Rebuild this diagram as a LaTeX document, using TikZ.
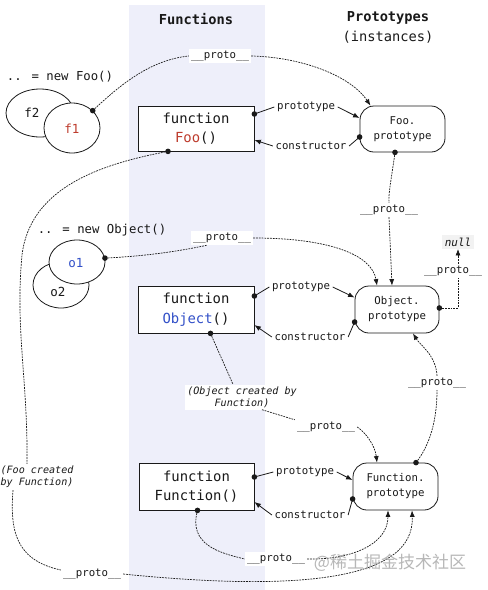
\documentclass[tikz,border=0pt]{standalone}
\usepackage{fontspec}
\setmainfont{DejaVu Sans Mono}
\newfontfamily\cjkfont{Noto Sans CJK SC}
\usetikzlibrary{arrows.meta,calc,shapes.geometric}
\definecolor{band}{RGB}{238,239,250}
\definecolor{fred}{RGB}{190,60,45}
\definecolor{oblue}{RGB}{50,80,200}
\definecolor{ink}{RGB}{25,25,25}
\tikzset{
  dl/.style={draw=ink, line width=0.7pt, dash pattern=on 1.8pt off 1pt},
  sl/.style={draw=ink, line width=0.8pt},
  tip/.style={-{Latex[length=6.5pt,width=5pt]}},
  dotn/.style={circle, fill=ink, inner sep=0pt, minimum size=5.6pt},
  fbox/.style={draw=ink, line width=0.8pt, fill=white, minimum width=116pt, minimum height=45pt,
               align=center, inner sep=0pt, font=\fontsize{13.9}{19.5}\selectfont, text=ink},
  pbox/.style={draw=ink, line width=0.8pt, fill=white, rounded corners=14pt, minimum width=85pt,
               minimum height=46pt, align=center, inner sep=0pt, font=\fontsize{10.7}{15}\selectfont, text=ink},
  ell/.style={draw=ink, line width=0.8pt, fill=white, ellipse, inner sep=0pt},
  etext/.style={font=\fontsize{12.5}{14}\selectfont, text=ink},
  plabel/.style={fill=white, inner sep=2pt, font=\fontsize{10.7}{13}\selectfont, text=ink},
  llabel/.style={inner sep=2.5pt, font=\fontsize{10.7}{13}\selectfont, text=ink},
  ilabel/.style={fill=white, inner sep=2pt, font=\fontsize{10.1}{12}\selectfont\itshape, text=ink},
  title/.style={font=\fontsize{13.7}{16}\selectfont\bfseries, text=ink},
  sub/.style={font=\fontsize{13.7}{16}\selectfont, text=ink},
  code/.style={font=\fontsize{12.3}{14}\selectfont, text=ink},
}
\begin{document}
\begin{tikzpicture}[x=1pt,y=-1pt]
\useasboundingbox (0,0) rectangle (488,590);
\fill[white] (0,0) rectangle (488,590);
\fill[band] (129,5) rectangle (265,590);

% titles
\node[title] (tF) at (196,19) {Functions};
\node[title] (tP) at (388,18) {Prototypes};
\node[sub] (tI) at (388,37) {(instances)};

% instance objects
\node[code] (nf) at (60,77) {.. = new Foo()};
\node[ell, minimum width=68pt, minimum height=48pt] (f2) at (40,113) {};
\node[etext] (f2t) at (32,113) {f2};
\node[ell, minimum width=56pt, minimum height=50pt] (f1) at (72,128) {};
\node[etext, text=fred] (f1t) at (72,129) {f1};

\node[code] (no) at (102,230) {.. = new Object()};
\node[ell, minimum width=56pt, minimum height=46pt] (o2) at (61,285) {};
\node[etext] (o2t) at (58,292) {o2};
\node[ell, minimum width=56pt, minimum height=44pt] (o1) at (77,262) {};
\node[etext, text=oblue] (o1t) at (76,263) {o1};

% function boxes
\node[fbox] (fnFoo) at (196,128.5) {function\\\textcolor{fred}{Foo}()};
\node[fbox, minimum height=47pt] (fnObj) at (196,309.5) {function\\\textcolor{oblue}{Object}()};
\node[fbox, minimum height=47pt, minimum width=115pt] (fnFun) at (196.5,486.5) {function\\Function()};

% prototype boxes
\node[pbox] (pFoo) at (402.5,129) {Foo.\\prototype};
\node[pbox, minimum width=84pt, minimum height=47pt] (pObj) at (397,309.5) {Object.\\prototype};
\node[pbox, minimum height=47pt] (pFun) at (395.5,486.5) {Function.\\prototype};

% null
\node[fill=black!5, inner sep=2.5pt, font=\fontsize{11}{13}\selectfont\itshape, text=ink] (nul) at (458,242) {null};

% labels
\node[plabel] (P1) at (220,56) {\_\_proto\_\_};
\node[plabel] (P2) at (389,210) {\_\_proto\_\_};
\node[plabel] (P3) at (222,238) {\_\_proto\_\_};
\node[plabel] (P4) at (453,271) {\_\_proto\_\_};
\node[plabel] (P5) at (437,383) {\_\_proto\_\_};
\node[plabel] (P6) at (326,427) {\_\_proto\_\_};
\node[plabel] (P7) at (92,574) {\_\_proto\_\_};
\node[plabel] (P8) at (276,559) {\_\_proto\_\_};
\node[ilabel, align=center] (OC) at (242,397) {(Object created by\\Function)};
\node[ilabel, fill=none, align=left] (FC) at (37,477) {(Foo created\\by Function)};

\node[llabel] (pr1) at (306,107) {prototype};
\node[llabel] (co1) at (311,146) {constructor};
\node[llabel] (pr2) at (301,287) {prototype};
\node[llabel] (co2) at (310,337) {constructor};
\node[llabel] (pr3) at (305,472) {prototype};
\node[llabel] (co3) at (310,515) {constructor};

% prototype / constructor links
\draw[sl] ([yshift=14.5pt]fnFoo.east) node[dotn]{} -- (pr1.west);
\draw[sl,tip] (pr1.east) -- ([yshift=11pt]pFoo.west);
\draw[sl] ([yshift=-8pt]pFoo.west) node[dotn]{} -- (co1.east);
\draw[sl,tip] (co1.west) -- ([yshift=-11.5pt]fnFoo.east);

\draw[sl] ([yshift=13.5pt]fnObj.east) node[dotn]{} -- (pr2.west);
\draw[sl,tip] (pr2.east) -- ([yshift=12pt]pObj.west);
\draw[sl] ([yshift=-12.5pt]pObj.west) node[dotn]{} -- (co2.east);
\draw[sl,tip] (co2.west) -- ([yshift=-15.5pt]fnObj.east);

\draw[sl] ([yshift=9.5pt]fnFun.east) node[dotn]{} -- (pr3.west);
\draw[sl,tip] (pr3.east) -- ([yshift=6.5pt]pFun.west);
\draw[sl] ([yshift=-12.5pt]pFun.west) node[dotn]{} -- (co3.east);
\draw[sl,tip] (co3.west) -- ([yshift=-15.5pt]fnFun.east);

% __proto__ links
\draw[dl] (f1.40) node[dotn]{} .. controls (120,85) and (150,60) .. (P1.west);
\draw[dl,tip] (P1.east) .. controls (300,57) and (350,75) .. ([xshift=-32pt]pFoo.north);

\draw[dl] (o1.8) node[dotn]{} .. controls (150,256) and (185,250) .. ([xshift=-15pt]P3.south);
\draw[dl,tip] (P3.east) .. controls (330,238) and (372,255) .. ([xshift=-20pt]pObj.north);

\draw[dl] ([xshift=-7.5pt]pFoo.south) node[dotn]{} .. controls (392,175) and (388,195) .. (P2.north);
\draw[dl,tip] (P2.south) -- ([xshift=-5pt]pObj.north);

\draw[dl] ([yshift=1.5pt]pObj.east) node[dotn]{} -| ([xshift=5pt]P4.south);
\draw[dl,tip] ([xshift=5pt]P4.north) -- (nul.south);

\draw[dl] ([xshift=20.5pt]pFun.north) node[dotn]{} .. controls (430,445) and (437,420) .. (P5.south);
\draw[dl,tip] (P5.north) .. controls (436,355) and (420,345) .. ([xshift=16pt]pObj.south);

\draw[dl] ([xshift=14.5pt]fnObj.south) node[dotn]{} -- ([xshift=-9pt]OC.north);
\draw[dl] ([xshift=20pt]OC.south) -- (P6.north west);
\draw[dl,tip] (P6.east) .. controls (365,432) and (375,445) .. ([xshift=-18.5pt]pFun.north);

\draw[dl] ([xshift=-28pt]fnFoo.south) node[dotn]{} .. controls (95,165) and (30,190) .. (22,255)
   .. controls (15,330) and (28,380) .. ([xshift=-10pt]FC.north);
\draw[dl] ([xshift=-24pt]FC.south) .. controls (10,530) and (15,560) .. ([yshift=4pt]P7.west);
\draw[dl,tip] (P7.east) .. controls (300,592) and (415,580) .. ([xshift=16.5pt]pFun.south);

\draw[dl] ([xshift=1pt]fnFun.south) node[dotn]{} .. controls (188,545) and (220,553) .. (P8.west);
\draw[dl,tip] (P8.east) .. controls (350,560) and (388,545) .. ([xshift=-7.5pt]pFun.south);

% watermark
\node[text=black!40, opacity=0.7, font=\cjkfont\fontsize{17}{19}\selectfont] (wm) at (390,563) {@稀土掘金技术社区};
\end{tikzpicture}
\end{document}
